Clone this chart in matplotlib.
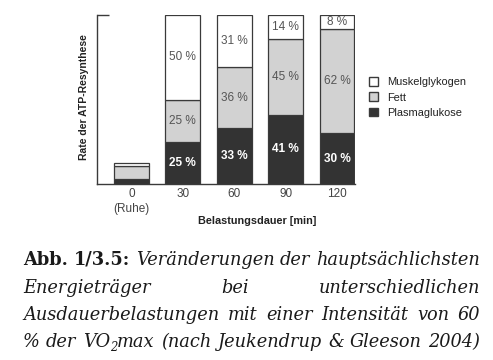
import matplotlib
matplotlib.use('Agg')
import matplotlib.pyplot as plt
from matplotlib.patches import Patch
import numpy as np

W, H = 493, 360

# Daten
categories = ['0\n(Ruhe)', '30', '60', '90', '120']
plasmaglukose = [3, 25, 33, 41, 30]
fett = [7.5, 25, 36, 45, 62]
muskelglykogen = [2, 50, 31, 14, 8]
show_labels = [False, True, True, True, True]

c_dark = '#333333'
c_light = '#d2d2d2'
c_white = '#ffffff'
c_edge = '#3a3a3a'

plt.rcParams['font.family'] = ['Liberation Sans', 'DejaVu Sans']

fig = plt.figure(figsize=(W / 100, H / 100), dpi=100)
ax = fig.add_axes([97 / W, 1 - 184 / H, (355 - 97) / W, (184 - 15) / H])

x = np.arange(len(categories))
bw = 0.68
p = np.array(plasmaglukose)
f = np.array(fett)
m = np.array(muskelglykogen)
kw = dict(width=bw, edgecolor=c_edge, linewidth=0.9)
ax.bar(x, p, color=c_dark, **kw)
ax.bar(x, f, bottom=p, color=c_light, **kw)
ax.bar(x, m, bottom=p + f, color=c_white, **kw)

for i in range(len(categories)):
    if not show_labels[i]:
        continue
    ax.text(x[i], p[i] / 2, f'{plasmaglukose[i]} %', ha='center', va='center',
            color='white', fontsize=8.5, fontweight='bold')
    ax.text(x[i], p[i] + f[i] / 2, f'{fett[i]} %', ha='center', va='center',
            color='#555555', fontsize=8.5)
    ax.text(x[i], p[i] + f[i] + m[i] / 2, f'{muskelglykogen[i]} %', ha='center', va='center',
            color='#555555', fontsize=8.5)

ax.set_xlim(-0.67, 4.35)
ax.set_ylim(0, 100)
for s in ['top', 'right']:
    ax.spines[s].set_visible(False)
ax.spines['left'].set_color(c_edge)
ax.spines['bottom'].set_color(c_edge)
ax.spines['left'].set_linewidth(1)
ax.spines['bottom'].set_linewidth(1)
ax.set_yticks([100])
ax.set_yticklabels([''])
ax.tick_params(axis='y', direction='in', length=8.5, width=1, color=c_edge)
ax.set_xticks(x)
ax.set_xticklabels(categories, fontsize=8.5, color='#444444', linespacing=1.3)
ax.tick_params(axis='x', length=0, pad=3)
ax.set_xlabel('Belastungsdauer [min]', fontsize=7.8, fontweight='bold', color='#222222', labelpad=2)
ax.set_ylabel('Rate der ATP-Resynthese', fontsize=7.5, fontweight='bold', color='#222222', labelpad=2)
ax.xaxis.set_label_coords((257 - 97) / (355 - 97), -(216 - 184) / (184 - 15))
ax.yaxis.set_label_coords(-(97 - 89) / (355 - 97), (184 - 97) / (184 - 15))

handles = [Patch(facecolor=c_white, edgecolor=c_edge, label='Muskelglykogen'),
           Patch(facecolor=c_light, edgecolor=c_edge, label='Fett'),
           Patch(facecolor=c_dark, edgecolor=c_edge, label='Plasmaglukose')]
leg = fig.legend(handles=handles, loc='center left', bbox_to_anchor=(359 / W, 1 - 97.5 / H),
                 frameon=False, handlelength=0.85, handleheight=0.85, handletextpad=0.8,
                 labelspacing=0.45, fontsize=7.9)
for t in leg.get_texts():
    t.set_color('#222222')

# Bildunterschrift, Blocksatz
serif = ['DejaVu Serif']
fs = 12.8
n = dict(fontsize=fs, family=serif, style='italic', color='#1a1a1a', ha='left', va='baseline')
b = dict(fontsize=fs, family=serif, fontweight='bold', color='#1a1a1a', ha='left', va='baseline')
sub = dict(fontsize=fs * 0.65, family=serif, style='italic', color='#1a1a1a', ha='left', va='baseline')

lines = [
    (265, [[('Abb.', b, 0)], [('1/3.5:', b, 0)], [('Veränderungen', n, 0)], [('der', n, 0)],
           [('hauptsächlichsten', n, 0)]]),
    (293, [[('Energieträger', n, 0)], [('bei', n, 0)], [('unterschiedlichen', n, 0)]]),
    (320, [[(w, n, 0)] for w in 'Ausdauerbelastungen mit einer Intensität von 60'.split()]),
    (347, [[('%', n, 0)], [('der', n, 0)], [('VO', n, 0), ('2', sub, -4), ('max', n, 0)],
           [('(nach', n, 0)], [('Jeukendrup', n, 0)], [('&', n, 0)], [('Gleeson', n, 0)],
           [('2004)', n, 0)]]),
]

x0, x1 = 23, 480
renderer = fig.canvas.get_renderer()
for y, words in lines:
    items = []
    for w in words:
        items.append([(fig.text(0, 0, s, **k), dy) for s, k, dy in w])
    widths = [[t.get_window_extent(renderer).width for t, _ in segs] for segs in items]
    total = sum(sum(ws) for ws in widths)
    gap = (x1 - x0 - total) / (len(items) - 1)
    xp = x0
    for segs, ws in zip(items, widths):
        for (t, dy), wd in zip(segs, ws):
            t.set_position((xp / W, 1 - (y - dy) / H))
            xp += wd
        xp += gap

fig.savefig('out.png', dpi=100)
